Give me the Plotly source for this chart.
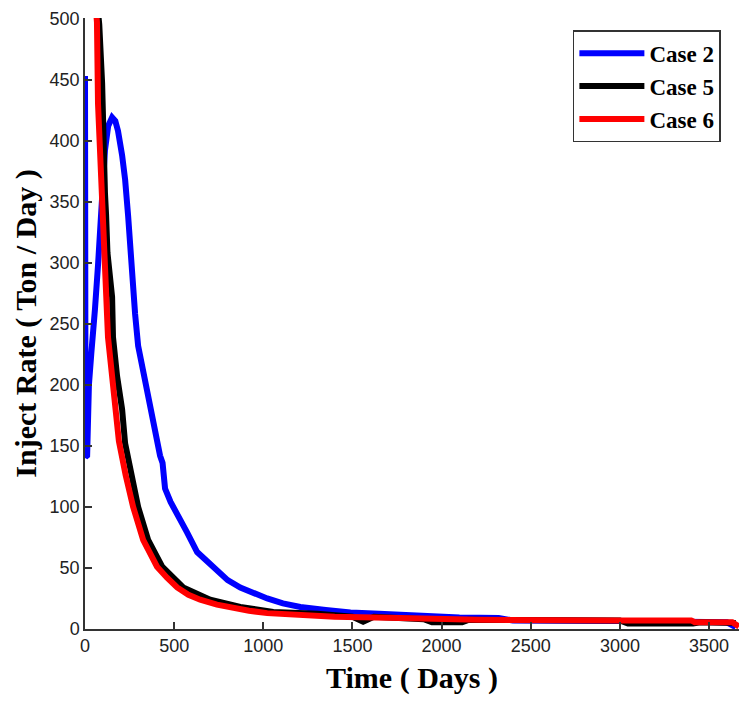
import plotly.graph_objects as go

# Injection rate histories (day, ton/day) for the three cases
case2_days = [0, 3, 12, 17, 22, 35, 45, 56, 73, 84, 96, 112, 130, 152, 170, 185, 208, 225,
              242, 253, 264, 281, 298, 326, 354, 382, 421, 435, 449, 480, 517, 573, 629,
              680, 741, 800, 871, 950, 1022, 1110, 1208, 1350, 1489, 1650, 1770, 1925,
              2100, 2320, 2400, 3000, 3400, 3600, 3650]
case2_rate = [453, 141, 142, 175, 200, 225, 240, 262, 298, 321, 345, 392, 412, 419, 416, 408, 388, 368,
              338, 310, 284, 258, 232, 211, 190, 166, 142, 136, 115, 104, 95, 79, 63,
              56, 47, 40, 34, 29, 25, 21, 18, 15.5, 13.5, 12.5, 11.5, 10.5,
              9.5, 9, 7, 6.5, 6.5, 5.5, 1.5]

case5_days = [70, 80, 96, 101, 112, 118, 126, 152, 157, 180, 208, 225, 258, 298, 354, 433,
              551, 702, 871, 1056, 1303, 1500, 1560, 1620, 1900, 1946, 2115, 2150, 3000,
              3045, 3410, 3450, 3650]
case5_rate = [510, 495, 447, 406, 357, 340, 308, 272, 239, 207, 180, 152, 126, 100, 73, 51,
              34, 24, 18, 14, 12.5, 10, 6, 10, 8, 5.5, 5.5, 7.5, 7,
              4.5, 4.5, 5.5, 5]

case6_days = [60, 67, 73, 84, 96, 103, 112, 129, 152, 169, 190, 228, 270, 326, 404, 460,
              517, 580, 646, 740, 832, 920, 1022, 1208, 1400, 1770, 2000, 2200, 3000,
              3400, 3420, 3630, 3668]
case6_rate = [510, 497, 430, 392, 350, 320, 272, 239, 207, 180, 154, 126, 100, 73, 51, 42,
              34, 28, 24, 20, 17, 15, 13, 11, 10, 9, 8, 7.5, 7,
              7, 5.5, 5.5, 2]

series = [
    ("Case 2", case2_days, case2_rate, "#0000FF"),
    ("Case 5", case5_days, case5_rate, "#000000"),
    ("Case 6", case6_days, case6_rate, "#FF0000"),
]

x_ticks = [0, 500, 1000, 1500, 2000, 2500, 3000, 3500]
y_ticks = [0, 50, 100, 150, 200, 250, 300, 350, 400, 450, 500]

fig = go.Figure()
for name, xs, ys, color in series:
    fig.add_trace(go.Scatter(
        x=xs, y=ys, name=name, mode="lines",
        line=dict(color=color, width=6),
    ))

tick_font = dict(family="Liberation Sans, Arial, sans-serif", size=18, color="#222222")
title_font = dict(family="Liberation Serif, Times New Roman, serif", size=30,
                  color="#000000", weight="bold")

fig.update_layout(
    width=739, height=701,
    margin=dict(l=85, r=0, t=18, b=72),
    paper_bgcolor="white", plot_bgcolor="white",
    showlegend=True,
    legend=dict(
        x=0.746, y=0.980, xanchor="left", yanchor="top",
        bgcolor="white", bordercolor="#333333", borderwidth=1.5,
        font=dict(family="Liberation Serif, Times New Roman, serif", size=23,
                  color="#000000", weight="bold"),
        itemwidth=65,
        tracegroupgap=0,
    ),
)

fig.update_xaxes(
    range=[0, 3668], tickvals=x_ticks, ticktext=[str(v) for v in x_ticks],
    ticks="inside", ticklen=7, tickwidth=1.5, tickcolor="#333333",
    showline=True, linecolor="#333333", linewidth=1.5,
    showgrid=False, zeroline=False, tickfont=tick_font,
    title=dict(text="Time ( Days )", font=title_font, standoff=12),
)
fig.update_yaxes(
    range=[0, 500.4], tickvals=y_ticks, ticktext=[str(v) for v in y_ticks],
    ticks="inside", ticklen=7, tickwidth=1.5, tickcolor="#333333",
    showline=True, linecolor="#333333", linewidth=1.5,
    showgrid=False, zeroline=False, tickfont=tick_font,
    title=dict(text="Inject Rate ( Ton / Day )", font=title_font, standoff=4),
)

fig.write_html("out.html")
